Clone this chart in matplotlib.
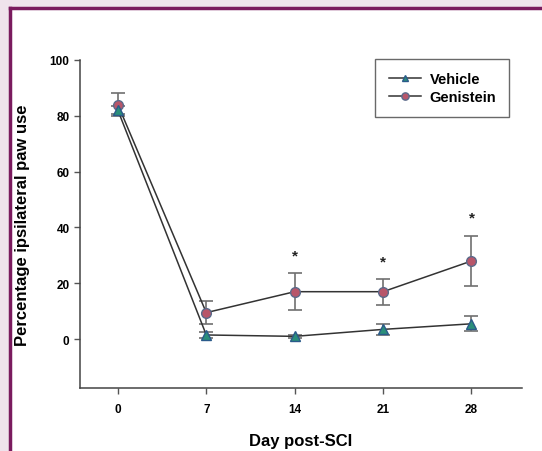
import matplotlib.pyplot as plt
from matplotlib.patches import Rectangle
from matplotlib.lines import Line2D

plt.rcParams['font.family'] = ['Liberation Sans', 'DejaVu Sans']
plt.rcParams['font.weight'] = 'bold'

days = [0, 7, 14, 21, 28]
vehicle = [82, 1.5, 1, 3.5, 5.5]
vehicle_err = [1.5, 1, 0.5, 2, 2.7]
genistein = [84, 9.5, 17, 17, 28]
genistein_err = [4, 4.2, 6.7, 4.7, 9]
star_days = [14, 21, 28]
star_y = [30, 28, 43.5]

fig = plt.figure(figsize=(5.42, 4.52), dpi=100)
fig.patch.set_facecolor('#efe3ec')
# white panel with purple frame on left/top
fig.add_artist(Rectangle((10/542, 0), 1, 1 - 9/452, transform=fig.transFigure,
                         facecolor='white', edgecolor='none', zorder=-2))
fig.add_artist(Line2D([9.5/542, 9.5/542], [0, 1 - 8.5/452], transform=fig.transFigure,
                      color='#7a1a5e', lw=2.5))
fig.add_artist(Line2D([9.5/542, 1], [1 - 8.5/452, 1 - 8.5/452], transform=fig.transFigure,
                      color='#7a1a5e', lw=2.5))

ax = fig.add_axes([80/542, 1 - 389/452, 442/542, 328/452])
ax.set_facecolor('none')

ax.errorbar(days, genistein, yerr=genistein_err, fmt='none', ecolor='#707070',
            elinewidth=1.2, capsize=5, capthick=1.2, zorder=2)
ax.errorbar(days, vehicle, yerr=vehicle_err, fmt='none', ecolor='#707070',
            elinewidth=1.2, capsize=5, capthick=1.2, zorder=2)
ax.plot(days, genistein, color='#333333', lw=1.1, marker='o', ms=7,
        mfc='#b8566a', mec='#5a6a8a', mew=1, label='Genistein', zorder=3)
ax.plot(days, vehicle, color='#333333', lw=1.1, marker='^', ms=6.5,
        mfc='#2a8f7a', mec='#2a5a8a', mew=1, label='Vehicle', zorder=3)

for d, y in zip(star_days, star_y):
    ax.text(d, y, '*', ha='center', va='center', fontsize=11, color='#222222')

ax.set_xlim(-3, 32)
ax.set_ylim(-17.5, 100)
ax.set_xticks(days)
ax.set_yticks([0, 20, 40, 60, 80, 100])
ax.tick_params(axis='both', labelsize=8.5, direction='out', length=4,
               color='#555555', width=1)
ax.tick_params(axis='x', pad=7)
for s in ['top', 'right']:
    ax.spines[s].set_visible(False)
for s in ['left', 'bottom']:
    ax.spines[s].set_color('#444444')
    ax.spines[s].set_linewidth(1.1)

ax.set_xlabel('Day post-SCI', fontsize=12, fontweight='bold', labelpad=13)
ax.set_ylabel('Percentage ipsilateral paw use', fontsize=12, fontweight='bold', labelpad=14)

h, l = ax.get_legend_handles_labels()
leg = ax.legend(h[::-1], l[::-1], loc='upper right', bbox_to_anchor=(0.971, 1.003),
                borderaxespad=0, fontsize=10.5, frameon=True, fancybox=False,
                edgecolor='#444444', handlelength=2.2, handletextpad=0.6,
                borderpad=0.9, labelspacing=0.25, markerscale=0.75)
leg.get_frame().set_linewidth(1)
for t in leg.get_texts():
    t.set_fontweight('bold')

fig.savefig('out.png', dpi=100, facecolor=fig.get_facecolor())
